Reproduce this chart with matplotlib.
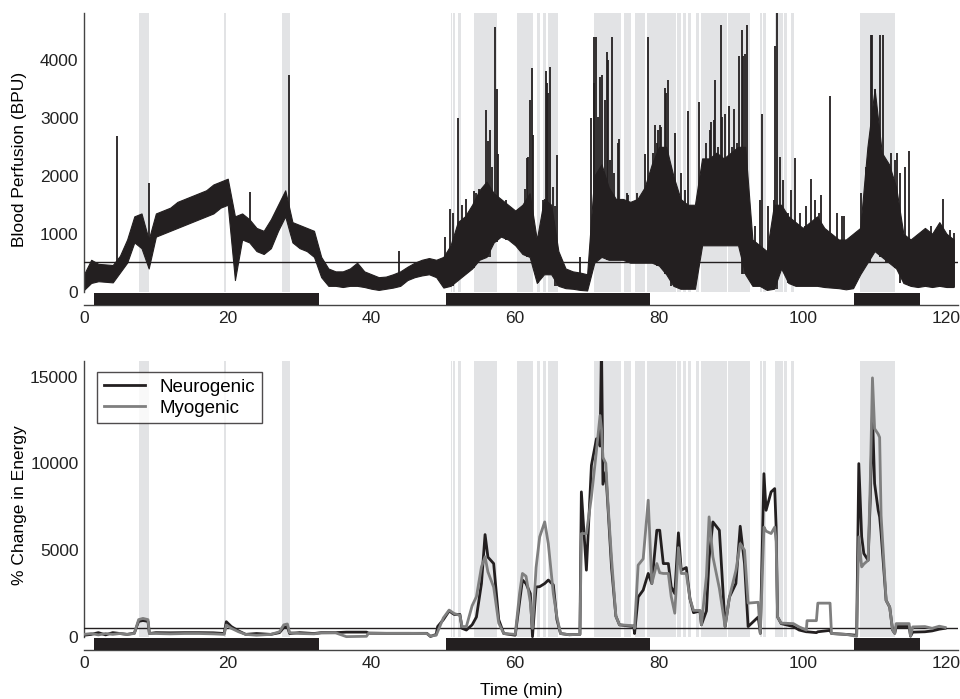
import numpy as np
import matplotlib.pyplot as plt

plt.rcParams['font.family'] = ['Liberation Sans', 'DejaVu Sans']

# ---- shaded periods (min) ----
shade_spans = [(7.6, 9.0), (19.5, 19.7), (27.6, 28.6),
               (51.0, 51.2), (51.4, 51.6), (52.1, 52.4), (54.3, 57.5),
               (60.3, 62.5), (63.0, 63.5), (63.8, 64.3), (64.6, 66.0),
               (70.9, 74.7), (75.1, 76.1), (76.6, 78.1), (78.3, 82.4),
               (82.5, 83.1), (83.3, 83.8), (84.0, 84.5), (85.1, 85.5),
               (85.8, 89.4), (89.6, 92.6), (94.0, 94.3), (94.5, 94.9),
               (96.1, 97.2), (97.4, 97.8), (98.3, 98.8), (108.0, 112.9)]

# ---- stimulus periods (black bars) ----
bar_spans = [(1.4, 32.7), (50.4, 78.7), (107.1, 116.3)]

# ---- blood perfusion: per-minute envelope of the raw trace ----
bp_t = list(range(0, 122))
bp_lo = [30, 150, 180, 170, 160, 330, 500, 850, 750, 400,
         950, 1000, 1050, 1100, 1150, 1200, 1250, 1300, 1350, 1450,
         1500, 200, 900, 850, 700, 650, 750, 1050, 1300, 850,
         750, 700, 600, 250, 100, 100, 80, 100, 100, 80,
         50, 30, 50, 70, 100, 200, 250, 280, 300, 250,
         70, 100, 200, 300, 400, 550, 600, 850, 950, 900,
         800, 650, 600, 150, 300, 300, 100, 60, 50, 30,
         20, 500, 600, 550, 550, 550, 500, 500, 500, 500,
         450, 300, 100, 50, 50, 50, 800, 800, 800, 800,
         800, 800, 300, 100, 100, 30, 50, 400, 150, 100,
         100, 100, 100, 80, 70, 60, 40, 60, 300, 500,
         700, 600, 500, 400, 150, 100, 80, 100, 80, 100,
         80, 80]
bp_hi = [300, 550, 480, 470, 460, 620, 900, 1300, 1350, 900,
         1350, 1400, 1450, 1550, 1600, 1650, 1700, 1750, 1850, 1900,
         1950, 1300, 1350, 1250, 1100, 1050, 1250, 1500, 1750, 1200,
         1150, 1100, 1050, 600, 400, 350, 350, 400, 500, 350,
         300, 250, 260, 300, 350, 430, 500, 550, 580, 550,
         600, 800, 1200, 1300, 1500, 1750, 1900, 1700, 1600, 1500,
         1400, 1500, 1700, 900, 1600, 1500, 700, 400, 350, 330,
         300, 2000, 2200, 1800, 1600, 1600, 1550, 1600, 1800, 2200,
         2500, 2500, 2000, 1600, 1500, 1500, 2300, 2300, 2400, 2300,
         2400, 2500, 2500, 900, 800, 700, 1500, 1500, 1300, 1200,
         1100, 1200, 1300, 1100, 1000, 900, 900, 1000, 1100, 2500,
         3500, 2400, 2200, 1800, 1000, 900, 1000, 1100, 1000, 1200,
         1000, 900]

# narrow spikes above the envelope (min, BPU)
spike_t = [4.55, 9.05, 23.1, 28.5, 43.8, 50.2, 50.9, 51.4, 52.1, 52.6,
           53.1, 53.5, 53.7, 54.2, 54.6, 55.0, 55.1, 55.5, 55.9, 56.2,
           56.5, 56.8, 57.2, 57.4, 57.6, 58.1, 58.7, 61.3, 61.6, 61.8,
           62.0, 62.3, 62.5, 63.1, 63.8, 64.3, 64.4, 64.6, 64.8, 65.2,
           65.5, 65.8, 69.0, 70.6, 70.9, 71.0, 71.3, 71.5, 71.8, 72.1,
           72.5, 72.7, 72.9, 73.2, 73.5, 73.8, 74.3, 74.5, 75.0, 75.5,
           75.7, 76.2, 76.7, 76.9, 77.1, 77.6, 78.1, 78.5, 79.0, 79.2,
           79.4, 79.7, 79.9, 80.1, 80.3, 80.5, 80.8, 81.0, 81.3, 81.7,
           82.2, 83.1, 83.6, 84.0, 84.8, 85.6, 86.2, 86.6, 87.1, 87.3,
           87.6, 87.8, 88.2, 88.6, 88.8, 89.2, 89.4, 89.8, 90.1, 90.4,
           90.8, 91.2, 91.5, 91.7, 92.0, 92.3, 93.4, 94.1, 94.3, 95.1,
           96.0, 96.1, 96.4, 96.8, 97.2, 97.9, 98.4, 98.9, 99.6, 100.3,
           100.5, 101.2, 101.7, 102.2, 102.6, 103.1, 103.8, 104.7, 105.4, 105.8,
           108.1, 108.8, 109.3, 109.5, 109.7, 110.1, 110.7, 111.2, 111.6, 112.3,
           112.8, 113.1, 113.5, 114.2, 114.8, 116.8, 117.2, 117.9, 118.6, 119.5,
           120.5, 121.1]
spike_v = [2690, 1880, 1720, 3740, 710, 950, 1430, 1360, 3000, 1500,
           1600, 1360, 1300, 1730, 1700, 1780, 1640, 1640, 3140, 2600,
           2790, 2160, 4570, 3500, 2370, 1530, 1590, 1780, 2300, 2330,
           3310, 3860, 2700, 780, 1590, 3810, 3600, 3430, 3880, 1810,
           1470, 2360, 600, 3000, 4400, 3600, 4400, 3020, 3710, 3740,
           3310, 4140, 4000, 2280, 4400, 2050, 2560, 2640, 1590, 1700,
           1670, 1470, 1470, 1700, 1530, 1590, 2370, 4400, 2050, 2390,
           2870, 2560, 2790, 2870, 2850, 2500, 3510, 3430, 3650, 2160,
           2740, 2050, 1760, 3110, 1180, 3280, 2280, 2560, 2790, 2930,
           2970, 3650, 2500, 4600, 3020, 3070, 2160, 3200, 2500, 3150,
           2560, 4060, 4520, 4060, 4100, 4600, 1130, 1590, 3070, 1470,
           1590, 4240, 4810, 2330, 1930, 1360, 1760, 2300, 1360, 1130,
           1470, 1950, 1590, 1360, 1670, 1070, 3370, 1360, 1300, 1300,
           1700, 2160, 2390, 4430, 4430, 3500, 4430, 4430, 2160, 2390,
           2280, 2400, 2050, 2160, 2430, 980, 1070, 1130, 1070, 1600,
           1070, 1010]
bp_threshold = 520

# ---- % change in energy ----
en_t = [0, 1, 2, 3, 4, 5, 6, 7, 7.6, 8.2, 8.9, 9.1, 10, 12, 14, 16, 18, 19.5,
        19.8, 20.5, 21.5, 22.5, 24, 26, 27.2, 27.8, 28.3, 28.6, 30, 32, 33, 35,
        36.5, 39.3, 39.6, 42, 45, 47.7, 48.2, 49, 49.2, 50, 50.8, 51.5, 52.3,
        52.6, 53.2, 54, 54.6, 55.3, 55.8, 56.2, 57, 57.7, 58.4, 60, 60.6, 61,
        61.5, 62.1, 62.4, 62.9, 63.4, 64.1, 64.6, 65.3, 65.8, 66.3, 67.5, 69,
        69.2, 69.9, 70.6, 71.3, 71.8, 72.0, 72.2, 72.6, 72.9, 73.4, 74.0, 74.5,
        76.5, 76.6, 77.1, 77.8, 78.5, 79.0, 79.7, 80.1, 80.6, 81.3, 81.7, 82.2,
        82.7, 83.1, 83.8, 84.3, 84.8, 85.7, 85.9, 86.6, 86.97, 87.5, 88.4, 89.2,
        89.8, 90.7, 91.3, 91.9, 92.4, 93.8, 94.1, 94.6, 94.9, 95.6, 96.1, 96.3,
        96.5, 97, 98.7, 99.5, 100.5, 100.6, 101.9, 102.1, 103.8, 104, 106, 107.5,
        107.8, 108.2, 108.5, 109.1, 109.4, 109.7, 110.0, 110.5, 110.7, 110.9,
        111.6, 112.1, 112.5, 112.8, 113, 114.8, 115.0, 115.3, 117, 118, 119, 119.8]
neuro = [100, 150, 250, 120, 250, 200, 150, 220, 900, 950, 900, 200, 250, 240,
         250, 250, 240, 200, 880, 600, 350, 150, 200, 150, 250, 550, 600, 200,
         250, 200, 250, 250, 280, 280, 220, 210, 210, 210, 30, 150, 600, 1000,
         1500, 1300, 1300, 500, 400, 700, 1150, 3080, 5900, 4600, 4230, 1000,
         200, 100, 2000, 3280, 3080, 2500, 20, 2880, 2900, 3080, 3280, 3000,
         1000, 200, 130, 150, 8360, 3850, 9890, 11420, 11000, 17000, 8800, 9500,
         7500, 4000, 1200, 700, 600, 200, 2300, 2700, 3660, 3080, 6150, 6150,
         4230, 4230, 2890, 2500, 6000, 3850, 4000, 2220, 1400, 1500, 700, 1500,
         4500, 6630, 6150, 600, 2300, 3080, 6380, 4230, 600, 1150, 210, 9410,
         7300, 8360, 8550, 6330, 1150, 770, 600, 400, 300, 300, 250, 300, 380,
         200, 150, 100, 9990, 5770, 4810, 4420, 8000, 12860, 8840, 7300, 6920,
         6000, 2110, 1720, 400, 210, 600, 600, 50, 280, 300, 350, 450, 500]
myo = [150, 200, 120, 200, 150, 200, 150, 200, 1000, 1070, 1000, 200, 200, 180,
       200, 200, 180, 150, 690, 500, 300, 150, 100, 150, 300, 700, 750, 250,
       200, 180, 230, 240, 20, 40, 220, 210, 210, 200, 50, 100, 300, 1100,
       1550, 1350, 1250, 600, 600, 1800, 2320, 4040, 4620, 3750, 2870, 800,
       200, 150, 2500, 3660, 3500, 2000, 500, 4000, 5770, 6630, 5380, 2500,
       1150, 200, 130, 150, 5960, 5960, 8080, 10740, 12760, 12000, 10350, 10000,
       7700, 4500, 1200, 700, 650, 500, 4140, 4500, 7880, 3080, 4230, 3700,
       3660, 3660, 2330, 1370, 5150, 3660, 3660, 2220, 1530, 1530, 700, 3500,
       6920, 4620, 2800, 600, 2300, 3830, 5380, 5000, 1950, 2000, 210, 6330,
       6100, 5960, 6330, 5500, 1150, 800, 770, 580, 400, 940, 940, 1950, 1950,
       200, 150, 40, 5770, 4040, 4200, 4420, 9000, 14930, 12000, 11690, 11500,
       7000, 2110, 1720, 400, 210, 770, 770, 50, 580, 600, 500, 620, 550]
en_threshold = 500

BLACK = '#231f20'
SHADE = '#e2e3e5'
SPINE = '#444444'
FS = 12.5

fig = plt.figure(figsize=(9.6, 6.99), dpi=100)
ax1 = fig.add_axes([0.0875, 0.5637, 0.9104, 0.4177])
ax2 = fig.add_axes([0.0875, 0.0701, 0.9104, 0.4134])

x_max = 121.6


def decorate(ax, ylo, yhi, bar_top, thresh, yticks):
    ax.set_xlim(0, x_max)
    ax.set_ylim(ylo, yhi)
    frac0 = (0 - ylo) / (yhi - ylo)
    for a, b in shade_spans:
        ax.axvspan(a, b, ymin=frac0, ymax=1, color=SHADE, lw=0, zorder=0)
    for a, b in bar_spans:
        ax.fill_between([a, b], ylo, bar_top, color=BLACK, lw=0, zorder=3)
    ax.axhline(thresh, color=BLACK, lw=1, zorder=4)
    for s in ['top', 'right']:
        ax.spines[s].set_visible(False)
    ax.spines['left'].set_bounds(0, yhi)
    for s in ['left', 'bottom']:
        ax.spines[s].set_color(SPINE)
        ax.spines[s].set_linewidth(1)
    ax.set_xticks([0, 20, 40, 60, 80, 100, 120])
    ax.set_yticks(yticks)
    ax.tick_params(length=0, labelsize=FS, colors='#222222', pad=4)
    ax.yaxis.set_label_coords(-0.065, 0.5)


# top panel
decorate(ax1, -230, 4810, -20, bp_threshold, [0, 1000, 2000, 3000, 4000])
ax1.fill_between(bp_t, bp_lo, bp_hi, color=BLACK, lw=0.8, edgecolor=BLACK, zorder=2)
spike_base = [bp_lo[int(round(t))] for t in spike_t]
ax1.vlines(spike_t, spike_base, spike_v, color=BLACK, lw=1.3, zorder=2)
ax1.set_ylabel('Blood Perfusion (BPU)', fontsize=FS)

# bottom panel
decorate(ax2, -750, 15900, -40, en_threshold, [0, 5000, 10000, 15000])
ax2.plot(en_t, neuro, color=BLACK, lw=2, label='Neurogenic', zorder=5)
ax2.plot(en_t, myo, color='#7f7f7f', lw=2, label='Myogenic', zorder=5)
ax2.set_ylabel('% Change in Energy', fontsize=FS)
ax2.set_xlabel('Time (min)', fontsize=FS, labelpad=9)
leg = ax2.legend(loc='upper left', bbox_to_anchor=(0.015, 0.962), fontsize=13.5,
                 frameon=True, fancybox=False, borderpad=0.35, handlelength=2.2,
                 labelspacing=0.2, borderaxespad=0)
leg.get_frame().set_edgecolor(BLACK)
leg.get_frame().set_linewidth(1)

fig.savefig('out.png', dpi=100)
